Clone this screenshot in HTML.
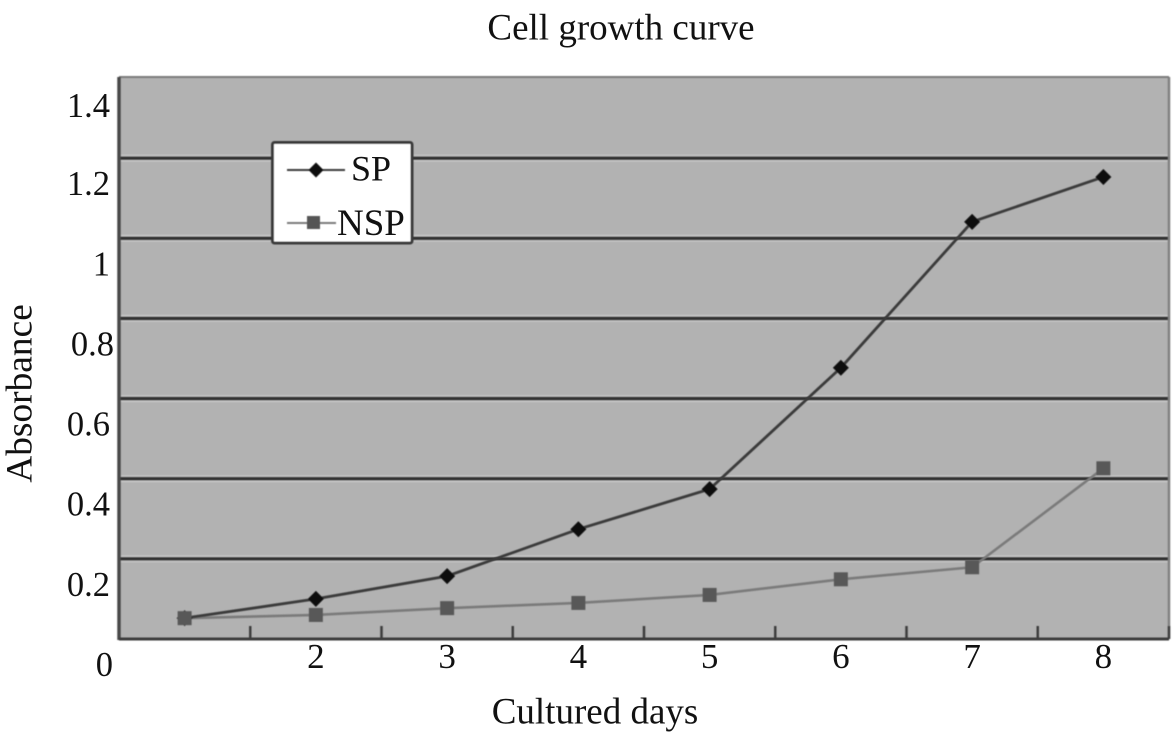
<!DOCTYPE html>
<html>
<head>
<meta charset="utf-8">
<title>Cell growth curve</title>
<style>
html,body{margin:0;padding:0;background:#fff;width:1173px;height:750px;overflow:hidden}
svg{display:block}
text{font-family:"Liberation Serif",serif;fill:#111}
</style>
</head>
<body>
<svg id="chart" width="1173" height="750" viewBox="0 0 1173 750">
  <defs>
    <filter id="soft" x="-5%" y="-5%" width="110%" height="110%"><feGaussianBlur stdDeviation="0.6"/></filter>
  </defs>
  <rect x="119" y="77" width="1050" height="562" fill="#b2b2b2"/>
  <g id="grid" filter="url(#soft)"></g>
  <g id="frame" filter="url(#soft)"></g>
  <g id="series" filter="url(#soft)"></g>
  <g id="ylabels"></g>
  <g id="xlabels"></g>

  <text x="621" y="39.500" text-anchor="middle" font-size="37">Cell growth curve</text>
  <text x="595" y="723.500" text-anchor="middle" font-size="37">Cultured days</text>
  <text transform="translate(31.500,393.500) rotate(-90)" text-anchor="middle" font-size="37.4">Absorbance</text>

  <g>
    <rect x="272.5" y="142.5" width="139.5" height="100.5" rx="2" fill="#fff" stroke="#3a3a3a" stroke-width="3" filter="url(#soft)"/>
    <g filter="url(#soft)">
      <line x1="287" y1="170" x2="345" y2="170" stroke="#3c3c3c" stroke-width="2"/>
      <path d="M316 162.5L323.5 170L316 177.5L308.500 170Z" fill="#0a0a0a"/>
    </g>
    <text x="351" y="180.500" font-size="36">SP</text>
    <g filter="url(#soft)">
      <line x1="287" y1="223" x2="336" y2="223" stroke="#7c7c7c" stroke-width="2"/>
      <rect x="307" y="216" width="13" height="13" fill="#555"/>
    </g>
    <text x="337" y="235" font-size="37">NSP</text>
  </g>
</svg>
<script>
const categories = [1, 2, 3, 4, 5, 6, 7, 8];
const xTickLabels = ["", "2", "3", "4", "5", "6", "7", "8"];
const yTickValues = [0, 0.2, 0.4, 0.6, 0.8, 1, 1.2, 1.4];
const yTickLabels = ["0", "0.2", "0.4", "0.6", "0.8", "1", "1.2", "1.4"];
const spValues = [0.052, 0.1, 0.157, 0.274, 0.374, 0.677, 1.041, 1.153];
const nspValues = [0.052, 0.06, 0.077, 0.09, 0.11, 0.149, 0.179, 0.426];

const plotLeft = 119, plotRight = 1169, plotBottom = 639, plotTop = 77, scaleTop = 78;
const NS = "http://www.w3.org/2000/svg";

function yScale(v) { return plotBottom - (v / 1.4) * (plotBottom - scaleTop); }
function xScale(c) { return plotLeft + (c - 0.5) * (plotRight - plotLeft) / categories.length; }
function make(tag, parent) {
  const el = document.createElementNS(NS, tag);
  parent.appendChild(el);
  return el;
}
function setAll(el, attrs) {
  for (const k in attrs) el.setAttribute(k, attrs[k]);
}

const grid = document.getElementById("grid");
yTickValues.forEach(function (v) {
  if (v === 0 || v === 1.4) return;
  const halo = make("line", grid);
  setAll(halo, { x1: plotLeft, x2: plotRight, y1: yScale(v), y2: yScale(v), stroke: "#c6c6c6", "stroke-width": 7 });
  
  
  const line = make("line", grid);
  setAll(line, { x1: plotLeft, x2: plotRight, y1: yScale(v), y2: yScale(v), stroke: "#303030", "stroke-width": 3.6 });
  
  
});

const frame = document.getElementById("frame");
const topEdge = make("line", frame);
setAll(topEdge, { x1: plotLeft, x2: plotRight, y1: plotTop, y2: plotTop, stroke: "#7c7c7c", "stroke-width": 2 });


const rightEdge = make("line", frame);
setAll(rightEdge, { x1: plotRight, x2: plotRight, y1: plotTop, y2: plotBottom, stroke: "#808080", "stroke-width": 2.5 });


const yAxisLine = make("line", frame);
setAll(yAxisLine, { x1: plotLeft, x2: plotLeft, y1: plotTop, y2: plotBottom + 1, stroke: "#4a4a4a", "stroke-width": 3.5 });


const xAxisLine = make("line", frame);
setAll(xAxisLine, { x1: plotLeft, x2: plotRight, y1: plotBottom, y2: plotBottom, stroke: "#3c3c3c", "stroke-width": 3 });



categories.forEach(function (c) {
  const tx = xScale(c) + (plotRight - plotLeft) / categories.length / 2;
  const tick = make("line", frame);
  setAll(tick, { x1: tx, x2: tx, y1: plotBottom - 13, y2: plotBottom, stroke: "#3c3c3c", "stroke-width": 2.5 });
  
  
});

const seriesLayer = document.getElementById("series");
const nspLine = make("polyline", seriesLayer);
setAll(nspLine, {
  points: nspValues.map(function (v, i) { return xScale(categories[i]) + "," + yScale(v); }).join(" "),
  fill: "none", stroke: "#7a7a7a", "stroke-width": 2.6
});


const spLine = make("polyline", seriesLayer);
setAll(spLine, {
  points: spValues.map(function (v, i) { return xScale(categories[i]) + "," + yScale(v); }).join(" "),
  fill: "none", stroke: "#3a3a3a", "stroke-width": 2.8
});



spValues.forEach(function (v, i) {
  const x = xScale(categories[i]), y = yScale(v), r = 8;
  const d = make("path", seriesLayer);
  d.setAttribute("d", "M" + x + " " + (y - r) + "L" + (x + r) + " " + y + "L" + x + " " + (y + r) + "L" + (x - r) + " " + y + "Z");
  d.setAttribute("fill", "#0a0a0a");
  
  
});
nspValues.forEach(function (v, i) {
  const s = make("rect", seriesLayer);
  setAll(s, { x: xScale(categories[i]) - 7, y: yScale(v) - 7, width: 14, height: 14, fill: "#585858" });
  
  
});

function labelDx(v) { return v === 0 ? 3 : (v === 0.8 ? 4 : 0); }
function labelDy(v) { return v === 1.4 ? 39 : 37; }

const ylabels = document.getElementById("ylabels");
yTickValues.forEach(function (v, i) {
  const t = make("text", ylabels);
  setAll(t, { x: 110 + labelDx(v), y: yScale(v) + labelDy(v), "text-anchor": "end", "font-size": 34.5 });
  t.textContent = yTickLabels[i];
  
  
});

const xlabels = document.getElementById("xlabels");
categories.forEach(function (c, i) {
  if (!xTickLabels[i]) return;
  const t = make("text", xlabels);
  setAll(t, { x: xScale(c), y: 668, "text-anchor": "middle", "font-size": 35 });
  t.textContent = xTickLabels[i];
  
  
});
</script>
</body>
</html>
